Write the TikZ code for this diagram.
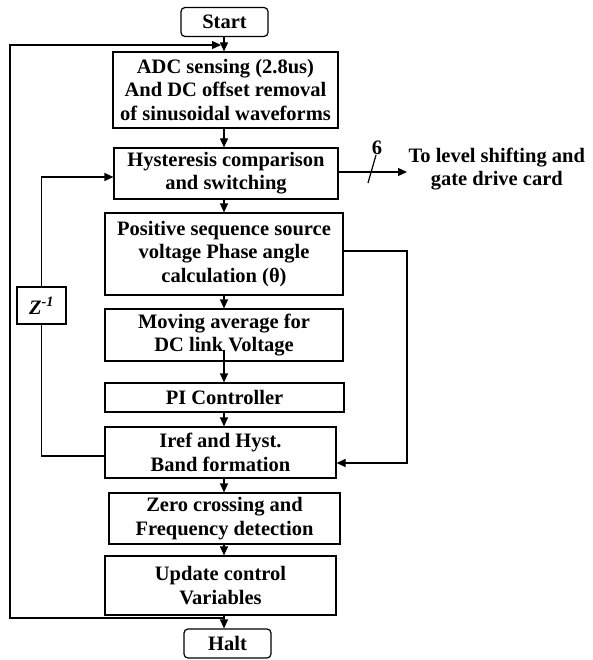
\documentclass[tikz,border=0pt]{standalone}
\usepackage{fontspec}
\setmainfont{Liberation Serif}
\usetikzlibrary{arrows.meta}
\tikzset{
  block/.style    = {shape=rectangle, draw, line width=1.2pt, align=center,
                     inner sep=2pt, font=\fontsize{20.5}{23.3}\selectfont\bfseries},
  terminal/.style = {block, rounded corners=4pt, minimum width=87pt, minimum height=29pt},
  wire/.style     = {line width=1.2pt},
  flow/.style     = {wire, -{Triangle[length=9pt,width=8pt]}}
}

\begin{document}
\begin{tikzpicture}[x=1pt,y=-1pt]
  \useasboundingbox (0,0) rectangle (592,660);
  \coordinate (axis) at (224,0);

  \node[terminal] (start) at (224.5,22) {Start};
  \node[block, minimum width=225pt, minimum height=76pt] (adc) at (225.5,90)
    {ADC sensing (2.8us)\\And DC offset removal\\of sinusoidal waveforms};
  \node[block, minimum width=224pt, minimum height=51pt] (hyst) at (226,173.5)
    {Hysteresis comparison\\and switching};
  \node[block, minimum width=238pt, minimum height=82pt] (pos) at (224,254)
    {Positive sequence source\\voltage Phase angle\\calculation (θ)};
  \node[block, minimum width=238pt, minimum height=52pt] (mavg) at (224,335)
    {Moving average for\\DC link Voltage};
  \node[block, minimum width=239pt, minimum height=29pt] (pi) at (224.5,397.5)
    {PI Controller};
  \node[block, minimum width=231pt, minimum height=51pt] (iref) at (220.5,452.5)
    {Iref and Hyst.\\Band formation};
  \node[block, minimum width=231pt, minimum height=51pt] (zero) at (224.5,518.5)
    {Zero crossing and\\Frequency detection};
  \node[block, minimum width=231pt, minimum height=59pt] (upd) at (220.5,585.5)
    {Update control\\Variables};
  \node[terminal] (halt) at (227.5,643.5) {Halt};
  \node[block, minimum width=49pt, minimum height=37pt] (zinv) at (41.5,305.5)
    {\textit{Z\textsuperscript{-1}}};

  % main sequence
  \draw[flow] (start.south -| axis) -- (adc.north -| axis);
  \draw[flow] (adc.south -| axis) -- (hyst.north -| axis);
  \draw[flow] (hyst.south -| axis) -- (pos.north -| axis);
  \draw[flow] (pos.south -| axis) -- (mavg.north -| axis);
  \draw[flow] ([yshift=12pt]mavg.south -| axis) -- (pi.north -| axis);
  \draw[flow] (pi.south -| axis) -- (iref.north -| axis);
  \draw[flow] (iref.south -| axis) -- (zero.north -| axis);
  \draw[flow] (zero.south -| axis) -- (upd.north -| axis);
  \draw[flow] (upd.south -| axis) -- (halt.north -| axis);

  % outer loop back to sensing
  \coordinate (ret) at (224,618);
  \coordinate (entry) at (221,45);
  \coordinate (lft) at (10,0);
  \draw[flow] (ret) -- (ret -| lft) -- (lft |- entry) -- (entry);

  % phase angle to band formation
  \coordinate (rgt) at (407,0);
  \draw[flow] ([yshift=3pt]pos.east) -- ([yshift=3pt]pos.east -| rgt)
    |- ([yshift=-10.5pt]iref.east);

  % delayed feedback
  \draw[wire] ([yshift=-3.5pt]iref.west) -| (zinv.south);
  \draw[flow] (zinv.north) |- ([yshift=-3.5pt]hyst.west);

  % gate signals
  \coordinate (out) at (407,172);
  \coordinate (bus) at (372,169);
  \draw[flow] (hyst.east |- out) -- (out);
  \draw[wire] ([shift={(-4,14)}]bus) -- ([shift={(4,-14)}]bus)
    node[block, draw=none, above=-2pt, xshift=1pt] (six) {6};
  \node[block, draw=none, anchor=west, inner sep=0pt] (card) at ([xshift=1pt,yshift=3pt]out)
    {To level shifting and\\gate drive card};
\end{tikzpicture}
\end{document}
